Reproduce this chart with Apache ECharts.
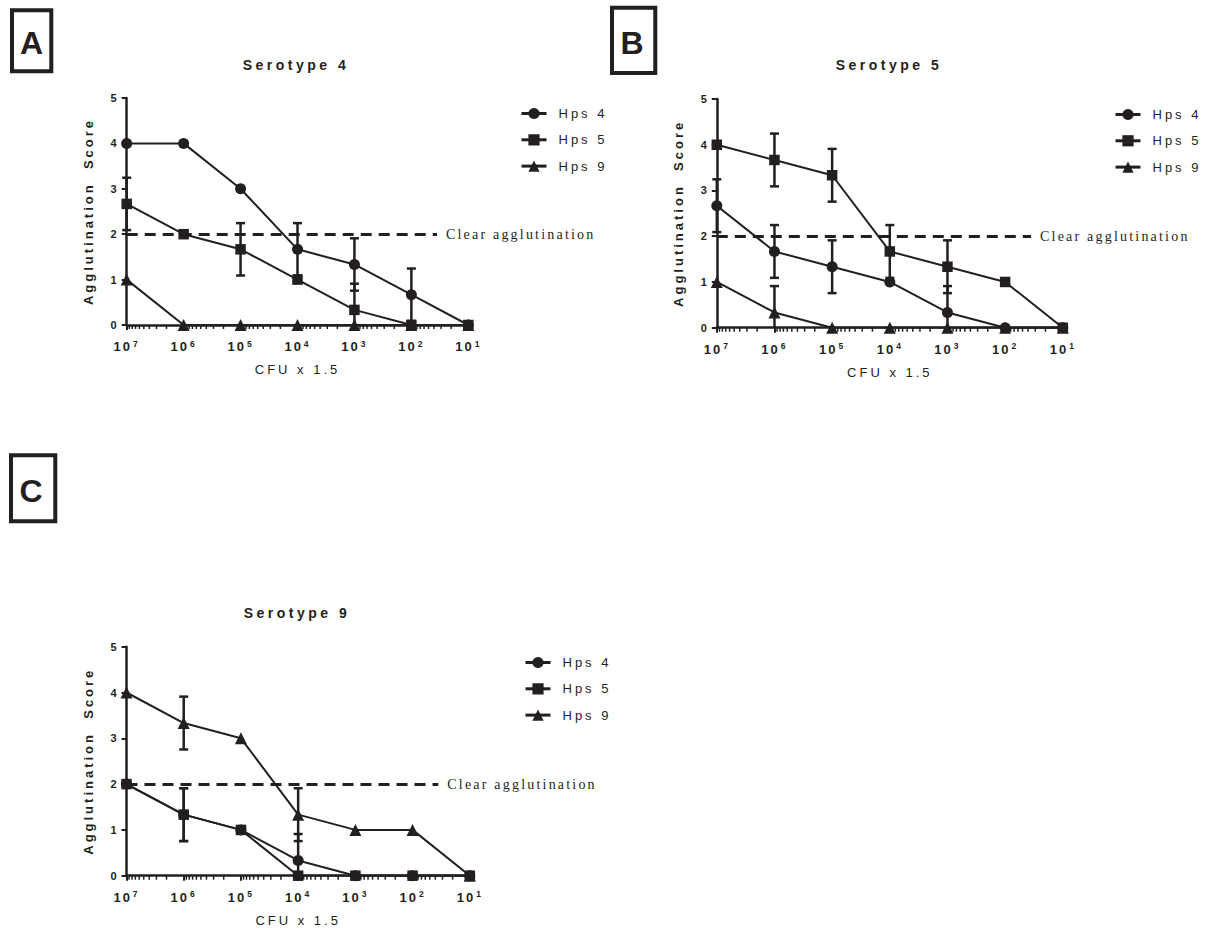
<!DOCTYPE html>
<html>
<head>
<meta charset="utf-8">
<script src="https://cdn.jsdelivr.net/npm/echarts@6/dist/echarts.min.js"></script>
<style>
  html, body { margin: 0; padding: 0; background: #fff; }
  #chart { width: 1207px; height: 930px; }
  #chart text { letter-spacing: 3px; }
</style>
</head>
<body>
<div id="chart"></div>
<script>
// ---------------- data ----------------
const exponents = [7, 6, 5, 4, 3, 2, 1];           // CFU x 1.5 = 10^exponent
const tickBase = '10';
const seriesNames = ['Hps 4', 'Hps 5', 'Hps 9'];
const panelTitles = ['Serotype 4', 'Serotype 5', 'Serotype 9'];
const panelLetters = ['A', 'B', 'C'];
const xAxisTitle = 'CFU x 1.5';
const yAxisTitle = 'Agglutination  Score';
const thresholdValue = 2;
const thresholdEnd = 1.55;
const thresholdLabel = 'Clear agglutination';

// Serotype 4
const s4_hps4    = [4, 4, 3, 1.667, 1.333, 0.667, 0];
const s4_hps4_sd = [0, 0, 0, 0.577, 0.577, 0.577, 0];
const s4_hps5    = [2.667, 2, 1.667, 1, 0.333, 0, 0];
const s4_hps5_sd = [0.577, 0, 0.577, 0, 0.577, 0, 0];
const s4_hps9    = [1, 0, 0, 0, 0, 0, 0];
const s4_hps9_sd = [0, 0, 0, 0, 0, 0, 0];

// Serotype 5
const s5_hps4    = [2.667, 1.667, 1.333, 1, 0.333, 0, 0];
const s5_hps4_sd = [0.577, 0.577, 0.577, 0, 0.577, 0, 0];
const s5_hps5    = [4, 3.667, 3.333, 1.667, 1.333, 1, 0];
const s5_hps5_sd = [0, 0.577, 0.577, 0.577, 0.577, 0, 0];
const s5_hps9    = [1, 0.333, 0, 0, 0, 0, 0];
const s5_hps9_sd = [0, 0.577, 0, 0, 0, 0, 0];

// Serotype 9
const s9_hps4    = [2, 1.333, 1, 0.333, 0, 0, 0];
const s9_hps4_sd = [0, 0.577, 0, 0.577, 0, 0, 0];
const s9_hps5    = [2, 1.333, 1, 0, 0, 0, 0];
const s9_hps5_sd = [0, 0.577, 0, 0, 0, 0, 0];
const s9_hps9    = [4, 3.333, 3, 1.333, 1, 1, 0];
const s9_hps9_sd = [0, 0.577, 0, 0.577, 0, 0, 0];

const panels = [
  [[s4_hps4, s4_hps4_sd], [s4_hps5, s4_hps5_sd], [s4_hps9, s4_hps9_sd]],
  [[s5_hps4, s5_hps4_sd], [s5_hps5, s5_hps5_sd], [s5_hps9, s5_hps9_sd]],
  [[s9_hps4, s9_hps4_sd], [s9_hps5, s9_hps5_sd], [s9_hps9, s9_hps9_sd]]
];

// ---------------- style / layout ----------------
const INK = '#231f20';
const SANS = '"Liberation Sans", Arial, sans-serif';
const SERIF = '"Liberation Serif", "Times New Roman", serif';
const symbols = ['circle', 'rect', 'triangle'];
const symbolSizes = [11, 10.5, 12];

const grids = [
  { left: 126.7, top: 98, width: 341.6, height: 227 },
  { left: 716.8, top: 99, width: 346, height: 228.7 },
  { left: 126.5, top: 646.7, width: 343.3, height: 229 }
];
const titlePos = [[296, 65], [889, 65], [297, 613]];
const legendPos = [{ left: 520, top: 107 }, { left: 1114, top: 108 }, { left: 524, top: 656 }];
const boxes = [
  { rect: { x: 12, y: 10.3, width: 39.3, height: 61 }, text: [31.5, 43.3] },
  { rect: { x: 612, y: 7.7, width: 43.3, height: 65.3 }, text: [632, 43.3] },
  { rect: { x: 11, y: 455.3, width: 44.3, height: 66 }, text: [31, 491.3] }
];

// minor (log) tick positions between decades, derived from the axis range
const minorTicks = [];
for (let n = Math.min(...exponents); n < Math.max(...exponents); n++) {
  for (let k = 2; k <= 9; k++) minorTicks.push([n + Math.log10(k), 0]);
}

const xAxes = [], yAxes = [], series = [], legends = [], graphics = [];

grids.forEach((g, gi) => {
  xAxes.push({
    gridIndex: gi, type: 'value', min: 1, max: 7, interval: 1, inverse: true,
    name: xAxisTitle, nameLocation: 'middle', nameGap: 38,
    nameTextStyle: { fontFamily: SANS, fontSize: 13, color: INK },
    axisLine: { show: true, onZero: true, lineStyle: { color: INK, width: 2.5 } },
    axisTick: { show: true, length: 5, lineStyle: { color: INK, width: 2 } },
    splitLine: { show: false },
    axisLabel: {
      margin: 14,
      formatter: v => '{b|' + tickBase + '}{s|' + v + '}',
      rich: {
        b: { fontFamily: SANS, fontSize: 13, fontWeight: 'bold', color: INK, lineHeight: 15 },
        s: { fontFamily: SANS, fontSize: 8.5, fontWeight: 'bold', color: INK, verticalAlign: 'top', lineHeight: 8, padding: [0, 0, 0, 3] }
      }
    }
  });
  yAxes.push({
    gridIndex: gi, type: 'value', min: 0, max: 5, interval: 1,
    name: yAxisTitle, nameLocation: 'middle', nameGap: 32, nameRotate: 90,
    nameTextStyle: { fontFamily: SANS, fontSize: 13, fontWeight: 'bold', color: INK },
    axisLine: { show: true, lineStyle: { color: INK, width: 2.5 } },
    axisTick: { show: true, length: 5, lineStyle: { color: INK, width: 2 } },
    splitLine: { show: false },
    axisLabel: { fontFamily: SANS, fontSize: 11, fontWeight: 'bold', color: INK, margin: 10 }
  });

  // minor ticks
  series.push({
    type: 'custom', xAxisIndex: gi, yAxisIndex: gi, silent: true, z: 1,
    data: minorTicks, encode: { x: 0, y: 1 },
    renderItem: (params, api) => {
      const p = api.coord([api.value(0), api.value(1)]);
      return { type: 'line', shape: { x1: p[0], y1: p[1], x2: p[0], y2: p[1] + 4 },
               style: { stroke: INK, lineWidth: 1.5 } };
    }
  });

  panels[gi].forEach((pair, si) => {
    const mean = pair[0], sd = pair[1];
    // error bars
    series.push({
      type: 'custom', xAxisIndex: gi, yAxisIndex: gi, silent: true, z: 2,
      data: exponents.map((e, i) => [e, mean[i], sd[i]]),
      encode: { x: 0, y: 1 },
      renderItem: (params, api) => {
        const x = api.value(0), y = api.value(1), s = api.value(2);
        if (!s) return { type: 'group', children: [] };
        const low = y - s;
        const top = api.coord([x, y + s]);
        const bot = api.coord([x, Math.max(0, low)]);
        const st = { stroke: INK, lineWidth: 2.5 };
        const ch = [
          { type: 'line', shape: { x1: top[0], y1: top[1], x2: bot[0], y2: bot[1] }, style: st },
          { type: 'line', shape: { x1: top[0] - 4.5, y1: top[1], x2: top[0] + 4.5, y2: top[1] }, style: st }
        ];
        if (low >= 0) ch.push({ type: 'line', shape: { x1: bot[0] - 4.5, y1: bot[1], x2: bot[0] + 4.5, y2: bot[1] }, style: st });
        return { type: 'group', children: ch };
      }
    });
    const ser = {
      type: 'line', name: seriesNames[si], xAxisIndex: gi, yAxisIndex: gi, z: 3,
      data: exponents.map((e, i) => [e, mean[i]]),
      symbol: symbols[si], symbolSize: symbolSizes[si], showAllSymbol: true,
      lineStyle: { color: INK, width: 2 },
      itemStyle: { color: INK, borderWidth: 0 },
      emphasis: { disabled: true }
    };
    if (si === 0) {
      ser.markLine = {
        silent: true, symbol: 'none', animation: false,
        lineStyle: { color: INK, width: 3, type: [11, 7] },
        label: { show: true, position: 'end', distance: 9, formatter: thresholdLabel,
                 fontFamily: SERIF, fontSize: 14, color: INK },
        data: [[{ coord: [Math.max(...exponents), thresholdValue] }, { coord: [thresholdEnd, thresholdValue] }]]
      };
    }
    series.push(ser);
  });

  legends.push({
    orient: 'vertical', left: legendPos[gi].left, top: legendPos[gi].top, padding: 0,
    data: seriesNames, itemWidth: 25, itemHeight: 14, itemGap: 13.3,
    selectedMode: false, inactiveColor: INK,
    lineStyle: { width: 3 },
    formatter: n => '{t|' + n + '}',
    textStyle: { color: INK, rich: { t: { fontFamily: SANS, fontSize: 13, color: INK, padding: [0, 0, 0, 7] } } }
  });

  graphics.push({
    type: 'text', x: titlePos[gi][0], y: titlePos[gi][1],
    style: { text: panelTitles[gi], fontFamily: SANS, fontSize: 14, fontWeight: 'bold', fill: INK,
             textAlign: 'center', textVerticalAlign: 'middle' }
  });
  graphics.push({
    type: 'rect', shape: boxes[gi].rect,
    style: { fill: 'none', stroke: INK, lineWidth: 4 }
  });
  graphics.push({
    type: 'text', x: boxes[gi].text[0], y: boxes[gi].text[1],
    style: { text: panelLetters[gi], fontFamily: SANS, fontSize: 32, fontWeight: 'bold', fill: INK,
             textAlign: 'center', textVerticalAlign: 'middle' }
  });
});

const chart = echarts.init(document.getElementById('chart'), null, { renderer: 'svg' });
chart.setOption({
  animation: false,
  backgroundColor: '#fff',
  grid: grids,
  xAxis: xAxes,
  yAxis: yAxes,
  legend: legends,
  series: series,
  graphic: graphics
});

function applySpacing() {
  document.querySelectorAll('#chart text').forEach(t => {
    const s = t.textContent || '';
    let ls = '3px';
    if (s.indexOf('Clear') >= 0) ls = '2.2px';
    else if (/^[0-9]$/.test(s.trim())) ls = '0px';
    else if (s === tickBase) ls = '2px';
    else if (panelLetters.indexOf(s) >= 0) ls = '0px';
    else if (panelTitles.indexOf(s) >= 0) ls = '3.5px';
    t.style.letterSpacing = ls;
  });
}
applySpacing();
chart.on('finished', applySpacing);
setTimeout(applySpacing, 0);
</script>
</body>
</html>
